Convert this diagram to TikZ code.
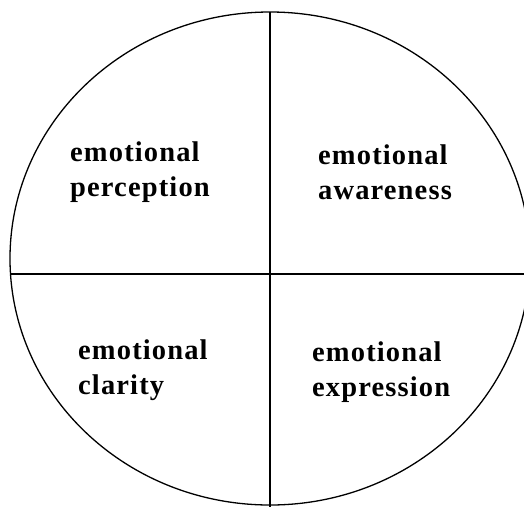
\documentclass[tikz,border=0pt]{standalone}
\usepackage{fontspec}
\setmainfont{Liberation Serif}
\newfontfamily\lblfont[LetterSpace=4]{Liberation Serif}
\begin{document}
\begin{tikzpicture}[x=1pt,y=-1pt,
  lbl/.style={anchor=west,align=left,inner sep=0pt,font=\lblfont\fontsize{28.5}{35}\selectfont\bfseries},
  rim/.style={line width=1.3pt},
  axis/.style={line width=1.8pt}]
\useasboundingbox (0,0) rectangle (524,507);
\begin{scope}
\clip (0,0) rectangle (524,507);
\draw[rim] (270,258.5) ellipse [x radius=260, y radius=246.5];
\end{scope}
\coordinate (top) at (270,12);
\coordinate (bot) at (270,507);
\coordinate (lft) at (10,274);
\coordinate (rgt) at (524,274);
\draw[axis] (top) -- (bot);
\draw[axis] (lft) -- (rgt);
\node[lbl] (tl) at (70,172) {emotional\\perception};
\node[lbl] (tr) at (318,172) {emotional\\awareness};
\node[lbl] (bl) at (78,370) {emotional\\clarity};
\node[lbl] (br) at (312,372) {emotional\\expression};
\end{tikzpicture}
\end{document}
